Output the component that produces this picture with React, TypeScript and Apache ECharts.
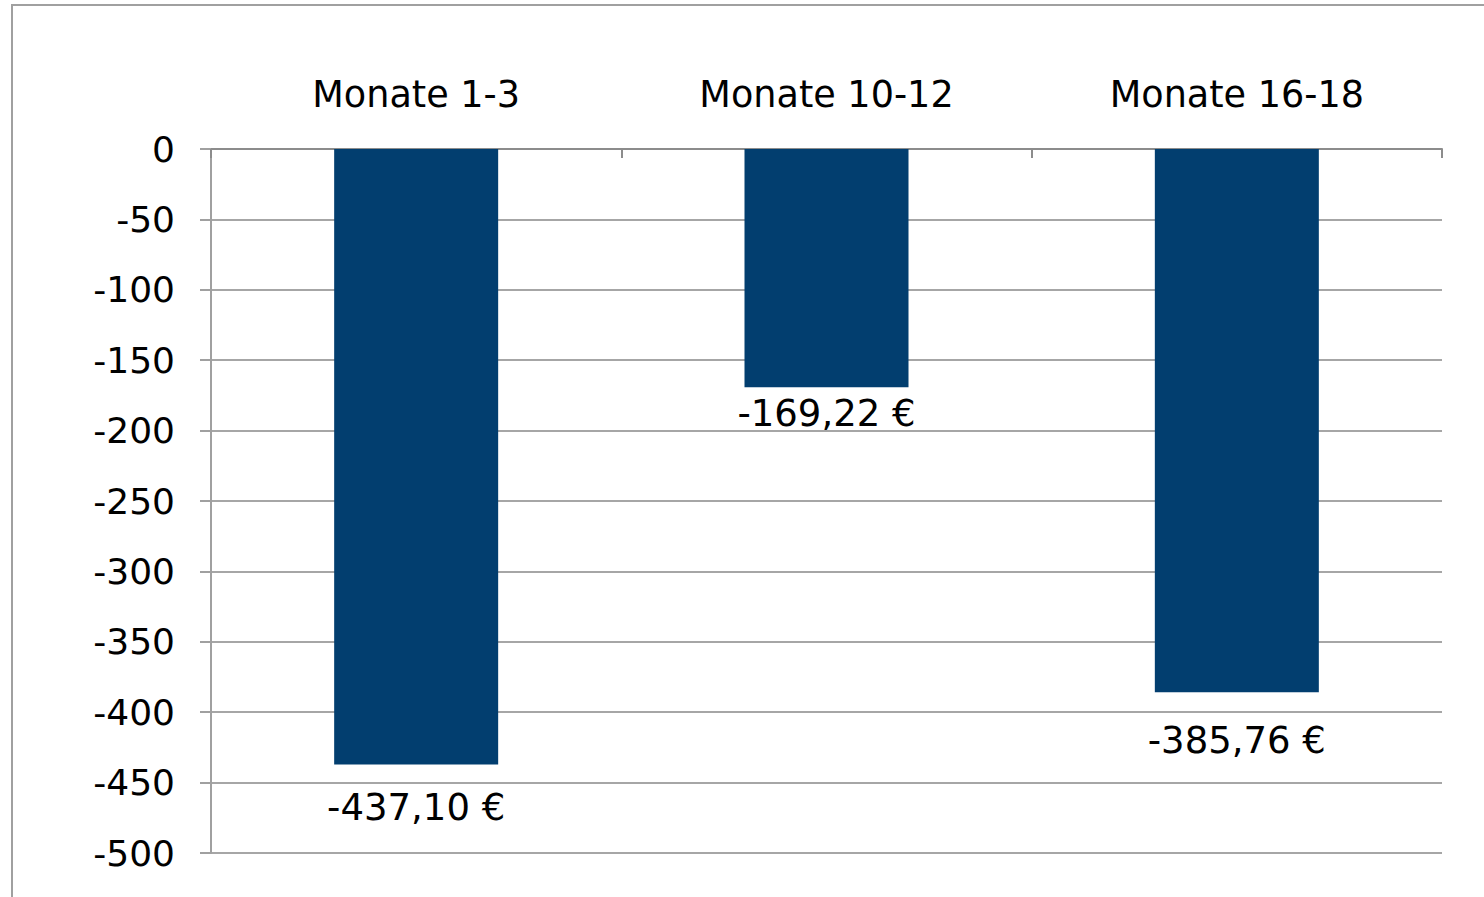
import React, { useEffect, useRef } from "react";
import * as echarts from "echarts";

const categories = ["Monate 1-3", "Monate 10-12", "Monate 16-18"];
const values = [-437.1, -169.22, -385.76];
const valueLabels = ["-437,10 €", "-169,22 €", "-385,76 €"];
const labelDistances = [25, 8, 30];

const FONT = "DejaVu Sans";

export default function App() {
  const ref = useRef<HTMLDivElement>(null);
  useEffect(() => {
    document.body.style.margin = "0";
    const chart = echarts.init(ref.current!, null, { renderer: "svg" });
    chart.setOption({
      animation: false,
      backgroundColor: "#ffffff",
      textStyle: { fontFamily: FONT },
      graphic: [
        {
          type: "rect",
          shape: { x: 12, y: 5, width: 1490, height: 920 },
          style: { fill: "none", stroke: "#a0a0a0", lineWidth: 2 },
          silent: true,
        },
      ],
      grid: { left: 211, right: 42, top: 149, bottom: 44 },
      xAxis: {
        type: "category",
        position: "top",
        data: categories,
        axisLine: { show: true, onZero: false, lineStyle: { color: "#8c8c8c", width: 2 } },
        axisTick: { show: true, inside: true, length: 9, lineStyle: { color: "#8c8c8c", width: 2 } },
        axisLabel: { color: "#000", fontSize: 36.6, fontFamily: FONT, margin: 36 },
        splitLine: { show: false },
      },
      yAxis: {
        type: "value",
        min: -500,
        max: 0,
        interval: 50,
        axisLine: { show: true, lineStyle: { color: "#a0a0a0", width: 2 } },
        axisTick: { show: true, length: 11, lineStyle: { color: "#a0a0a0", width: 2 } },
        axisLabel: { color: "#000", fontSize: 36, fontFamily: FONT, margin: 36 },
        splitLine: { show: true, lineStyle: { color: "#a6a6a6", width: 2 } },
      },
      series: [
        {
          type: "bar",
          barWidth: 164,
          data: values.map((v, i) => ({
            value: v,
            label: {
              show: true,
              position: "bottom",
              distance: labelDistances[i],
              formatter: () => valueLabels[i],
              color: "#000",
              fontSize: 37,
              fontFamily: FONT,
            },
          })),
          itemStyle: { color: "#023e6f" },
        },
      ],
    });
    return () => chart.dispose();
  }, []);
  return <div ref={ref} style={{ width: 1484, height: 897 }} />;
}
